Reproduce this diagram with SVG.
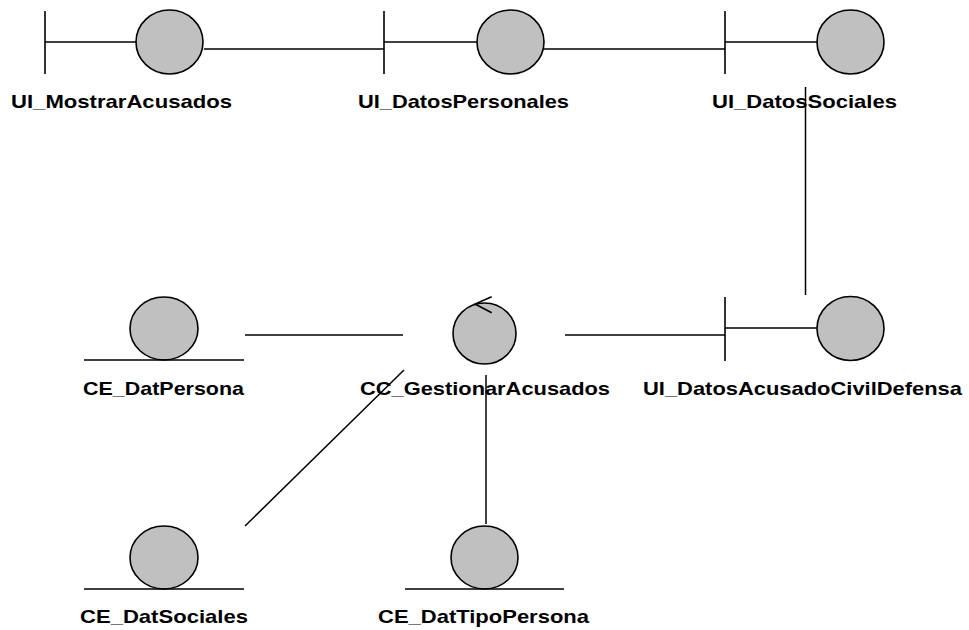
<svg xmlns="http://www.w3.org/2000/svg" width="969" height="630" viewBox="0 0 969 630">
  <style>
    .bg { fill: #ffffff; }
    .body { fill: #c0c0c0; stroke: #000; stroke-width: 1.6; }
    .stroke { fill: none; stroke: #000; stroke-width: 1.6; }
    .link { fill: none; stroke: #000; stroke-width: 1.5; }
    .label { font-family: "Liberation Sans", Arial, sans-serif; font-weight: bold; font-size: 19px; fill: #000; text-anchor: start; }
  </style>
  <rect class="bg" x="0" y="0" width="969" height="630"/>

  <!-- connectors -->
  <g id="connectors">
    <line class="link" x1="204" y1="49" x2="384" y2="49"/>
    <line class="link" x1="544" y1="49" x2="725" y2="49"/>
    <line class="link" x1="805.5" y1="87" x2="805.5" y2="295"/>
    <line class="link" x1="565" y1="335" x2="725" y2="335"/>
    <line class="link" x1="245" y1="335" x2="403" y2="335"/>
    <line class="link" x1="245" y1="526" x2="404" y2="370"/>
    <line class="link" x1="486" y1="375" x2="486" y2="524"/>
  </g>

  <!-- boundary: UI_MostrarAcusados -->
  <g id="UI_MostrarAcusados">
    <line class="stroke" x1="45" y1="11" x2="45" y2="74"/>
    <line class="stroke" x1="45" y1="42" x2="136" y2="42"/>
    <ellipse class="body" cx="169.5" cy="42" rx="33.5" ry="32"/>
    <text class="label" x="11" y="108" textLength="221" lengthAdjust="spacingAndGlyphs">UI_MostrarAcusados</text>
  </g>

  <!-- boundary: UI_DatosPersonales -->
  <g id="UI_DatosPersonales">
    <line class="stroke" x1="384" y1="11" x2="384" y2="74"/>
    <line class="stroke" x1="384" y1="42" x2="477" y2="42"/>
    <ellipse class="body" cx="510.5" cy="42" rx="33.5" ry="32"/>
    <text class="label" x="358" y="108" textLength="211" lengthAdjust="spacingAndGlyphs">UI_DatosPersonales</text>
  </g>

  <!-- boundary: UI_DatosSociales -->
  <g id="UI_DatosSociales">
    <line class="stroke" x1="725" y1="11" x2="725" y2="74"/>
    <line class="stroke" x1="725" y1="42" x2="817" y2="42"/>
    <ellipse class="body" cx="850.5" cy="42" rx="33.5" ry="32"/>
    <text class="label" x="712" y="108" textLength="185" lengthAdjust="spacingAndGlyphs">UI_DatosSociales</text>
  </g>

  <!-- boundary: UI_DatosAcusadoCivilDefensa -->
  <g id="UI_DatosAcusadoCivilDefensa">
    <line class="stroke" x1="725" y1="297" x2="725" y2="361"/>
    <line class="stroke" x1="725" y1="328" x2="817" y2="328"/>
    <ellipse class="body" cx="850.5" cy="328.5" rx="33.5" ry="32"/>
    <text class="label" x="643" y="395" textLength="319" lengthAdjust="spacingAndGlyphs">UI_DatosAcusadoCivilDefensa</text>
  </g>

  <!-- control: CC_GestionarAcusados -->
  <g id="CC_GestionarAcusados">
    <ellipse class="body" cx="484.5" cy="333.5" rx="31.5" ry="30.5"/>
    <polyline class="stroke" points="491.7,296.7 475,304 491.7,312.7"/>
    <text class="label" x="360" y="395" textLength="250" lengthAdjust="spacingAndGlyphs">CC_GestionarAcusados</text>
  </g>

  <!-- entity: CE_DatPersona -->
  <g id="CE_DatPersona">
    <ellipse class="body" cx="164" cy="328.5" rx="34" ry="31.5"/>
    <line class="stroke" x1="84" y1="360" x2="244" y2="360"/>
    <text class="label" x="83" y="395" textLength="161" lengthAdjust="spacingAndGlyphs">CE_DatPersona</text>
  </g>

  <!-- entity: CE_DatSociales -->
  <g id="CE_DatSociales">
    <ellipse class="body" cx="164" cy="557.5" rx="34" ry="31.5"/>
    <line class="stroke" x1="84" y1="589" x2="244" y2="589"/>
    <text class="label" x="80" y="623" textLength="168" lengthAdjust="spacingAndGlyphs">CE_DatSociales</text>
  </g>

  <!-- entity: CE_DatTipoPersona -->
  <g id="CE_DatTipoPersona">
    <ellipse class="body" cx="484.5" cy="557.5" rx="33.5" ry="31.5"/>
    <line class="stroke" x1="405" y1="589" x2="564" y2="589"/>
    <text class="label" x="378" y="623" textLength="211" lengthAdjust="spacingAndGlyphs">CE_DatTipoPersona</text>
  </g>
</svg>
